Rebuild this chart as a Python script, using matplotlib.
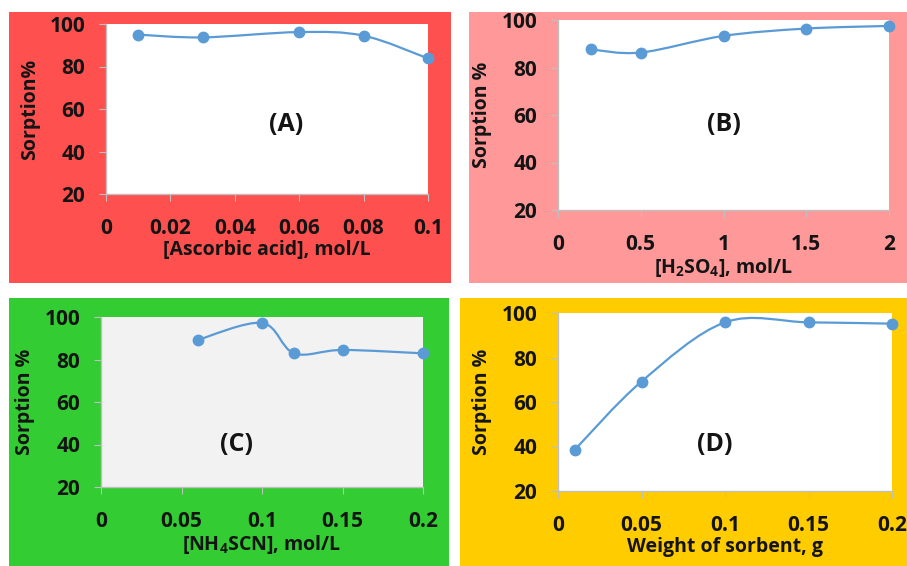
import numpy as np
import matplotlib
matplotlib.use("Agg")
import matplotlib.pyplot as plt
from matplotlib.path import Path
from matplotlib.patches import PathPatch, Rectangle

plt.rcParams['font.family'] = ['Open Sans', 'DejaVu Sans']
plt.rcParams['font.weight'] = 'bold'
plt.rcParams['axes.labelweight'] = 'bold'
plt.rcParams['mathtext.fontset'] = 'custom'
plt.rcParams['mathtext.rm'] = 'Open Sans:bold'
plt.rcParams['mathtext.it'] = 'Open Sans:bold'
plt.rcParams['mathtext.bf'] = 'Open Sans:bold'

# sorption data for the four parameters
ascorbic = [0.01, 0.03, 0.06, 0.08, 0.1]
sorp_ascorbic = [95.0, 93.7, 96.2, 94.5, 83.8]

h2so4 = [0.2, 0.5, 1.0, 1.5, 2.0]
sorp_h2so4 = [87.6, 86.3, 93.3, 96.4, 97.5]

nh4scn = [0.06, 0.1, 0.12, 0.15, 0.2]
sorp_nh4scn = [89.2, 97.2, 82.9, 84.5, 82.9]

sorbent = [0.01, 0.05, 0.1, 0.15, 0.2]
sorp_sorbent = [38.5, 69.2, 95.8, 95.8, 95.2]

ticks_a = [0, 0.02, 0.04, 0.06, 0.08, 0.1]
ticks_b = [0, 0.5, 1, 1.5, 2]
ticks_cd = [0, 0.05, 0.1, 0.15, 0.2]
yticks = [20, 40, 60, 80, 100]

W, H = 907, 566
fig = plt.figure(figsize=(W / 100, H / 100), dpi=100)
fig.patch.set_facecolor('white')

LINE = '#5B9BD5'
TXT = '#141414'
WT = 'bold'


def px_rect(l, t, r, b):
    return [l / W, 1 - b / H, (r - l) / W, (b - t) / H]


def smooth_path(x, y):
    # excel-like smoothed line: cubic bezier through the points
    p = np.column_stack([x, y]).astype(float)
    ext = np.vstack([p[0], p, p[-1]])
    verts = [p[0]]
    codes = [Path.MOVETO]
    for i in range(len(p) - 1):
        c1 = ext[i + 1] + (ext[i + 2] - ext[i]) / 6
        c2 = ext[i + 2] - (ext[i + 3] - ext[i + 1]) / 6
        verts += [c1, c2, p[i + 1]]
        codes += [Path.CURVE4] * 3
    return Path(verts, codes)


def panel(bg, axbox, bgbox, x, y, xticks, xmax, xlabel, ylabel, tag, tagpos, face='white'):
    fig.add_artist(Rectangle((bgbox[0] / W, 1 - bgbox[3] / H),
                             (bgbox[2] - bgbox[0]) / W, (bgbox[3] - bgbox[1]) / H,
                             transform=fig.transFigure, facecolor=bg, edgecolor='none', zorder=0))
    ax = fig.add_axes(px_rect(*axbox))
    ax.set_facecolor(face)
    ax.set_xlim(0, xmax)
    ax.set_ylim(20, 100)
    ax.set_xticks(xticks)
    ax.set_xticklabels([('%g' % v) for v in xticks], fontweight=WT)
    ax.set_yticks(yticks)
    ax.set_yticklabels([str(v) for v in yticks], fontweight=WT)
    for s in ['top', 'right']:
        ax.spines[s].set_visible(False)
    for s in ['left', 'bottom']:
        ax.spines[s].set_color('#BFBFBF')
        ax.spines[s].set_linewidth(1.0)
    ax.tick_params(axis='both', colors='#BFBFBF', labelcolor=TXT, length=5, labelsize=15)
    ax.tick_params(axis='x', pad=12)
    ax.tick_params(axis='y', pad=10)
    ax.add_patch(PathPatch(smooth_path(x, y), facecolor='none', edgecolor=LINE,
                           lw=1.6, transform=ax.transData, clip_on=False, zorder=3))
    ax.plot(x, y, 'o', color=LINE, ms=7.5, clip_on=False, zorder=4)
    ax.set_xlabel(xlabel, fontsize=14, color=TXT, labelpad=1, fontweight=WT)
    ax.set_ylabel(ylabel, fontsize=14, color=TXT, labelpad=7, fontweight=WT)
    ax.text(tagpos[0], tagpos[1], tag, fontsize=18, color=TXT, ha='center', va='center',
            fontweight=WT)
    return ax


panel('#FF5050', (106, 24, 428, 194), (9, 12, 451, 283),
      ascorbic, sorp_ascorbic, ticks_a, 0.1,
      '[Ascorbic acid], mol/L', 'Sorption%', '(A)', (0.056, 52.5))

panel('#FF9999', (558, 20, 889, 210), (469, 12, 907, 283),
      h2so4, sorp_h2so4, ticks_b, 2,
      r'[H$_{2}$SO$_{4}$], mol/L', 'Sorption %', '(B)', (1.0, 55.8))

panel('#33CC33', (101, 317, 423, 487), (9, 298, 449, 566),
      nh4scn, sorp_nh4scn, ticks_cd, 0.2,
      r'[NH$_{4}$SCN], mol/L', 'Sorption %', '(C)', (0.084, 39.8), face='#F2F2F2')

panel('#FFCC00', (558, 313, 892, 491), (460, 298, 907, 566),
      sorbent, sorp_sorbent, ticks_cd, 0.2,
      'Weight of sorbent, g', 'Sorption %', '(D)', (0.094, 40.7))

fig.savefig('out.png', dpi=100, facecolor=fig.get_facecolor())
